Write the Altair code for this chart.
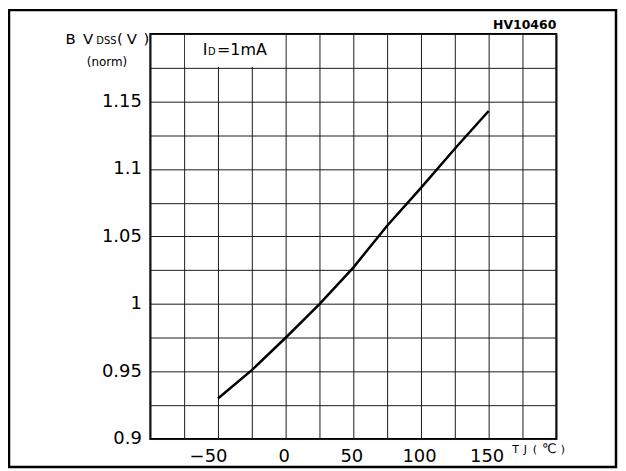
import altair as alt
import pandas as pd

# ---- data ----
temp_c = [-50, -25, 0, 25, 50, 75, 100, 125, 150]
bvdss_norm = [0.930, 0.951, 0.975, 1.000, 1.027, 1.058, 1.086, 1.115, 1.143]

x_grid = [-100, -75, -50, -25, 0, 25, 50, 75, 100, 125, 150, 175, 200]
x_labels = [-50, 0, 50, 100, 150]
y_grid = [0.9, 0.925, 0.95, 0.975, 1.0, 1.025, 1.05, 1.075, 1.1, 1.125, 1.15, 1.175, 1.2]
y_labels = [0.9, 0.95, 1.0, 1.05, 1.1, 1.15]

FONT = "DejaVu Sans"
W, H = 408, 407

df = pd.DataFrame({"T": temp_c, "BV": bvdss_norm})
one = pd.DataFrame({"k": [0]})

x_label_expr = f"indexof({x_labels}, datum.value) >= 0 ? format(datum.value, '~g') : ''"
y_label_expr = f"indexof({y_labels}, datum.value) >= 0 ? format(datum.value, '~g') : ''"

line = alt.Chart(df).mark_line(color="black", strokeWidth=2.5).encode(
    x=alt.X("T:Q",
            scale=alt.Scale(domain=[-100, 200], nice=False, zero=False),
            axis=alt.Axis(values=x_grid, labelExpr=x_label_expr, title=None,
                          grid=True, ticks=False, domain=False,
                          labelPadding=9, labelFontSize=18,
                          labelOffset={"condition": {"test": "datum.value < 0", "value": -10}, "value": -2})),
    y=alt.Y("BV:Q",
            scale=alt.Scale(domain=[0.9, 1.2], nice=False, zero=False),
            axis=alt.Axis(values=y_grid, labelExpr=y_label_expr, title=None,
                          grid=True, ticks=False, domain=False,
                          labelPadding=9, labelFontSize=18)),
)


def txt(s, x, y, size, align="left", weight="normal"):
    return alt.Chart(one).mark_text(
        text=s, align=align, baseline="alphabetic", fontSize=size,
        font=FONT, fontWeight=weight, color="black"
    ).encode(x=alt.value(x), y=alt.value(y))


# white box behind the I_D label (covers the top-row grid lines)
label_box = alt.Chart(one).mark_rect(color="white").encode(
    x=alt.value(35), x2=alt.value(135.5), y=alt.value(1), y2=alt.value(33)
)

# outer frame
frame = alt.Chart(one).mark_rect(fillOpacity=0, stroke="black", strokeWidth=2.5).encode(
    x=alt.value(-142), x2=alt.value(468), y=alt.value(-24), y2=alt.value(435)
)

texts = [
    # BVdss(V)
    txt("B", -80, 10, 15, "center"),
    txt("V", -62.5, 10, 15, "center"),
    txt("DSS", -44, 10, 10, "center"),
    txt("(", -30.5, 10, 15, "center"),
    txt("V", -18.5, 10, 15, "center"),
    txt(")", -4, 10, 15, "center"),
    # (norm)
    txt("(norm)", -43.5, 32, 12, "center"),
    # I_D=1mA
    txt("I", 55, 21, 16, "center"),
    txt("D", 58, 21, 10, "left"),
    txt("=1mA", 67, 21, 16, "left"),
    # HV10460
    txt("HV10460", W, -5, 12.5, "right", "bold"),
    # T_J(°C)
    txt("T", 367, 421, 11, "center"),
    txt("J", 377, 421, 11, "center"),
    txt("(", 386.5, 421, 11, "center"),
    txt("\u2103", 401, 421, 13, "center"),
    txt(")", 414.5, 421, 11, "center"),
]

chart = alt.layer(line, label_box, frame, *texts).properties(
    width=W, height=H, autosize="none",
    padding={"left": 143, "top": 25, "right": 62, "bottom": 31},
    background="white",
).configure_view(
    stroke="black", strokeWidth=2
).configure_axis(
    labelFont=FONT, labelColor="black", gridColor="#1a1a1a", gridWidth=1, gridOpacity=1
)

chart.save("out.html", embed_options={"renderer": "svg", "actions": False})
